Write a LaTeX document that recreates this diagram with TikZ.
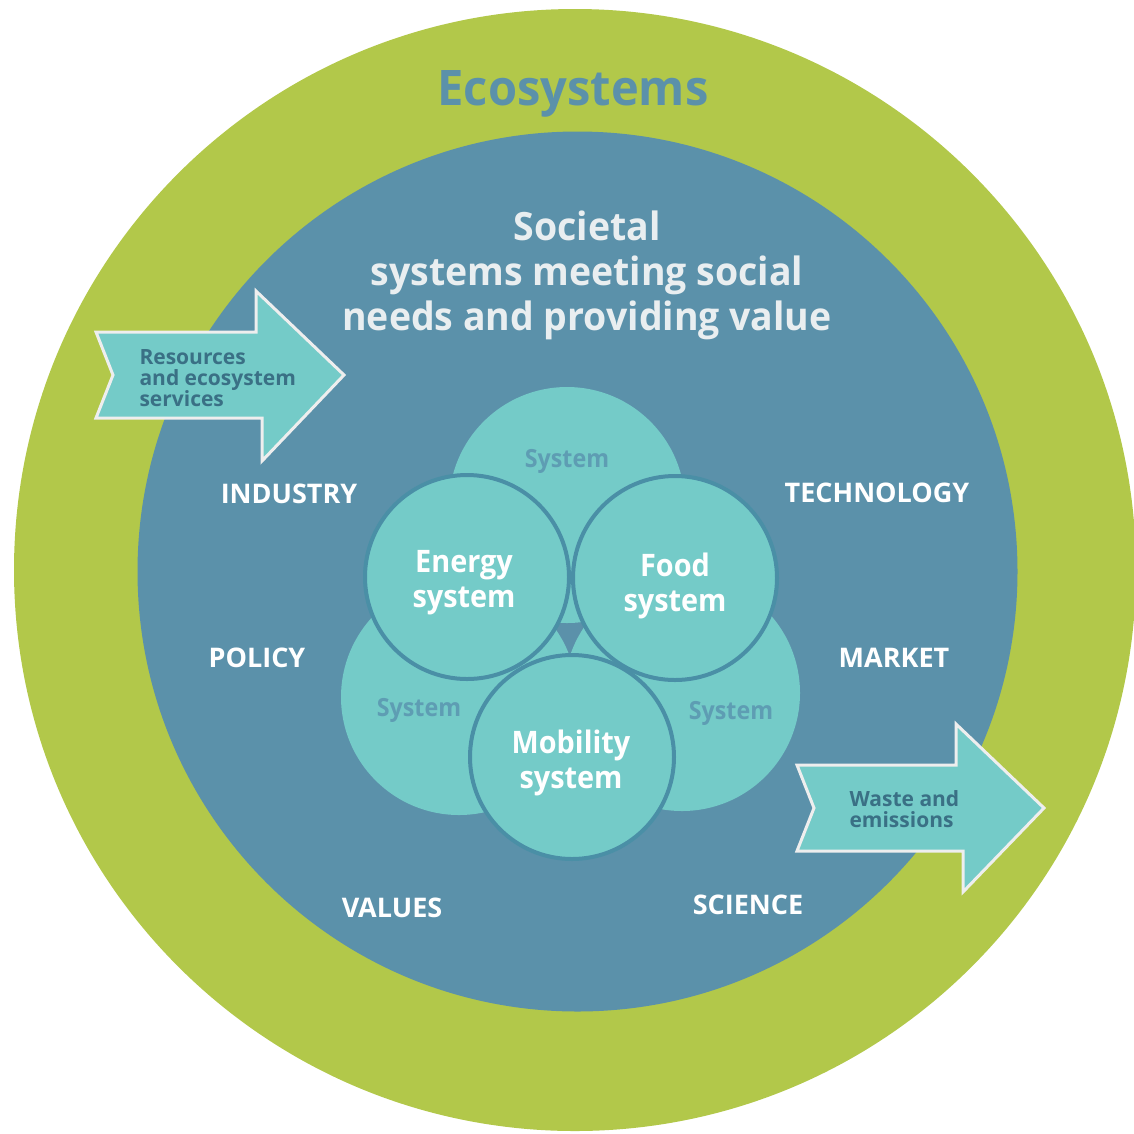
\documentclass[tikz,border=0pt]{standalone}
\usepackage{fontspec}
\setmainfont{Open Sans}
\newfontfamily\titlefont{Open Sans}[FakeStretch=0.96]
\newfontfamily\condfont{Open Sans}[FakeStretch=0.93]
\definecolor{eco}{HTML}{B2C84A}
\definecolor{soc}{HTML}{5B91AA}
\definecolor{sysc}{HTML}{74CBC8}
\definecolor{ring}{HTML}{4A8FA6}
\definecolor{arrtxt}{HTML}{3A7085}
\definecolor{faint}{HTML}{5E9DB3}
\definecolor{edge}{HTML}{EEEEEE}
\definecolor{soctxt}{HTML}{E9EEF0}
\begin{document}
\begin{tikzpicture}[x=1pt,y=-1pt,
  bigdisc/.style={circle,inner sep=0pt,draw=none},
  bgsys/.style={circle,inner sep=0pt,fill=sysc,minimum size=236pt},
  fgsys/.style={circle,inner sep=0pt,fill=sysc,draw=ring,line width=4pt,minimum size=204pt},
  fgtext/.style={text=white,font=\condfont\bfseries\fontsize{31}{35}\selectfont,align=center},
  faintlbl/.style={text=faint,font=\condfont\bfseries\fontsize{25}{28}\selectfont},
  forcelbl/.style={text=white,font=\bfseries\fontsize{27}{30}\selectfont},
  flowarrow/.style={fill=sysc,draw=edge,line width=3pt,line join=miter},
  arrlbl/.style={text=arrtxt,font=\bfseries\fontsize{21}{21}\selectfont,align=left,anchor=west}]
\useasboundingbox (0,0) rectangle (1134,1133);
% rings
\node[bigdisc,fill=eco,minimum size=1122pt] (eco) at (575,570) {};
\node[bigdisc,fill=soc,minimum size=880pt] (soc) at (577.5,571.5) {};
\node[text=soc,font=\titlefont\bfseries\fontsize{49}{55}\selectfont] (ecotitle) at (573,94) {Ecosystems};
\node[text=soctxt,font=\titlefont\bfseries\fontsize{39}{45}\selectfont,align=center] (soctitle) at (587,275)
  {Societal\\systems meeting social\\needs and providing value};
% background systems
\node[bgsys] (sysT) at (567,505) {};
\node[bgsys] (sysL) at (459,697) {};
\node[bgsys] (sysR) at (682,693) {};
\node[faintlbl] (lblT) at (567,461) {System};
\node[faintlbl] (lblL) at (419,710) {System};
\node[faintlbl] (lblR) at (731,713) {System};
% main systems
\node[fgsys] (energy) at (467,577) {};
\node[fgsys] (food) at (675,578) {};
\node[fgsys] (mobility) at (572,757) {};
\node[fgtext] (energytxt) at (464,583) {Energy\\system};
\node[fgtext] (foodtxt) at (675,586) {Food\\system};
\node[fgtext] (mobilitytxt) at (571,763) {Mobility\\system};
% forces
\node[forcelbl] (industry) at (289,494) {INDUSTRY};
\node[forcelbl] (technology) at (877,493) {TECHNOLOGY};
\node[forcelbl] (policy) at (257,658) {POLICY};
\node[forcelbl] (market) at (894,658) {MARKET};
\node[forcelbl] (values) at (392,908) {VALUES};
\node[forcelbl] (science) at (748,905) {SCIENCE};
% arrows
\draw[flowarrow] (96,332) -- (256,332) -- (256,291) -- (344,375) -- (262,461) -- (262,418)
  -- (96,418) -- (113,375) -- cycle;
\node[arrlbl] (inflow) at (136,378) {Resources\\and ecosystem\\services};
\draw[flowarrow] (797,765) -- (956,765) -- (956,724) -- (1044,808) -- (963,892) -- (963,851)
  -- (797,851) -- (814,808) -- cycle;
\node[arrlbl] (outflow) at (846,809) {Waste and\\emissions};
\end{tikzpicture}
\end{document}
